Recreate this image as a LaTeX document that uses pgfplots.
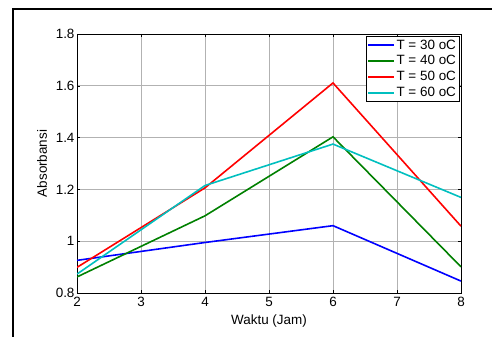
\documentclass[border=0pt]{standalone}
\usepackage{pgfplots}
\pgfplotsset{compat=1.18}
\usepackage{fontspec}
\setmainfont{Liberation Sans}
\definecolor{mgreen}{rgb}{0,0.5,0}
\definecolor{mcyan}{rgb}{0,0.75,0.75}
\begin{document}
\begin{tikzpicture}
\path[use as bounding box] (0,0) rectangle (492bp,337bp);
\draw[line width=1.6bp] (13bp,0) -- (13bp,328bp) -- (492bp,328bp);
\begin{axis}[
  at={(77bp,44bp)}, anchor=south west,
  scale only axis, width=384bp, height=259bp,
  xmin=2, xmax=8, ymin=0.8, ymax=1.8,
  xtick={2,3,4,5,6,7,8},
  ytick={0.8,1,1.2,1.4,1.6,1.8},
  yticklabels={0.8,1,1.2,1.4,1.6,1.8},
  /pgf/number format/assume math mode=true,
  tick label style={font=\fontsize{13.5}{15}\selectfont},
  label style={font=\fontsize{13.5}{15}\selectfont},
  xticklabel style={yshift=-1pt},
  yticklabel style={xshift=1pt},
  xlabel={Waktu (Jam)}, ylabel={Absorbansi},
  xlabel style={yshift=-1pt},
  ylabel style={yshift=2pt},
  grid=major,
  major grid style={gray!60, line width=0.8pt},
  tick align=inside, tick pos=both,
  major tick length=3bp,
  axis line style={black, line width=0.8pt},
  every tick/.style={black},
  legend style={at={(0.997,0.993)}, anchor=north east, draw=black, line width=0.8pt,
    font=\fontsize{13.5}{15}\selectfont, inner sep=1.5pt, row sep=1pt,
    cells={anchor=west}},
  legend cell align=left,
  legend image code/.code={\draw[mark repeat=2,mark phase=2,#1] plot coordinates {(0cm,0cm) (0.45cm,0cm) (0.9cm,0cm)};},
  every axis plot/.append style={line width=1.6pt},
]
\addplot[blue] coordinates {(2,0.926) (4,0.995) (6,1.060) (8,0.846)};
\addlegendentry{T = 30 oC}
\addplot[mgreen] coordinates {(2,0.862) (4,1.098) (6,1.403) (8,0.901)};
\addlegendentry{T = 40 oC}
\addplot[red] coordinates {(2,0.899) (4,1.206) (6,1.611) (8,1.058)};
\addlegendentry{T = 50 oC}
\addplot[mcyan] coordinates {(2,0.873) (4,1.215) (6,1.375) (8,1.169)};
\addlegendentry{T = 60 oC}
\end{axis}
\end{tikzpicture}
\end{document}
